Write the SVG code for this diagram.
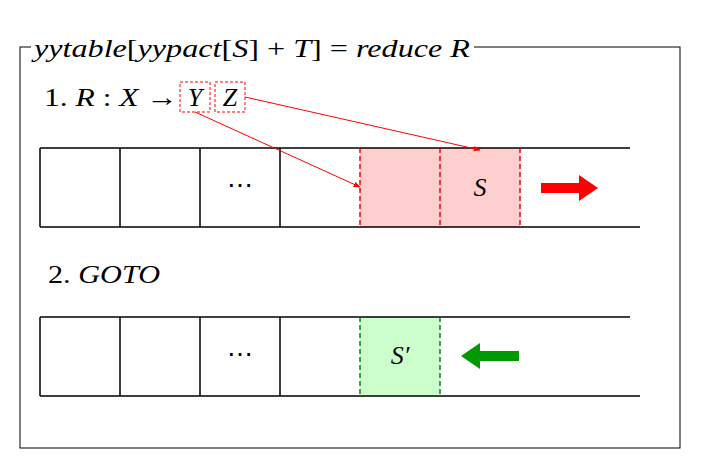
<svg xmlns="http://www.w3.org/2000/svg" width="702" height="469" viewBox="0 0 702 469">
<defs>
<style>
.m{font-family:"Liberation Serif",serif;font-style:italic;font-size:26px;fill:#000}
.n{font-family:"Liberation Serif",serif;font-style:normal;font-size:26px;fill:#000}
.l{stroke:#000;stroke-width:1.5;fill:none}
.rd{stroke:#e00;stroke-width:1.5;stroke-dasharray:5,3;fill:none}
.gd{stroke:#080;stroke-width:1.5;stroke-dasharray:5,3;fill:none}
</style>
<marker id="ah" viewBox="0 0 10 10" refX="9" refY="5" markerWidth="7" markerHeight="7" orient="auto"><path d="M0,1 L10,5 L0,9 z" fill="#f00"/></marker>
</defs>
<rect width="702" height="469" fill="#fff"/>
<rect x="20" y="47" width="660" height="401" fill="none" stroke="#000" stroke-width="1"/>
<rect x="31" y="33" width="443" height="28" fill="#fff"/>
<text x="34" y="57" class="m" textLength="436" lengthAdjust="spacingAndGlyphs">yytable<tspan class="n">[</tspan>yypact<tspan class="n">[</tspan>S<tspan class="n">] + </tspan>T<tspan class="n">] = </tspan>reduce R</text>
<g id="rule">
<text x="44" y="106" class="n" textLength="134" lengthAdjust="spacingAndGlyphs">1. <tspan class="m">R</tspan> : <tspan class="m">X</tspan> →</text>
<rect x="180" y="82" width="30" height="30" fill="none" stroke="#f00" stroke-dasharray="3,2"/>
<text x="195" y="106" class="m" text-anchor="middle">Y</text>
<rect x="215" y="82" width="30" height="30" fill="none" stroke="#f00" stroke-dasharray="3,2"/>
<text x="230" y="106" class="m" text-anchor="middle">Z</text>
</g>
<g id="tape1">
<rect x="360" y="148" width="160" height="79" fill="#ffcfcf"/>
<path class="l" d="M40,148 H630 M40,227 H640 M40,148 V227 M120,148 V227 M200,148 V227 M280,148 V227"/>
<path class="rd" d="M360,148 V227 M440,148 V227 M520,148 V227"/>
<text x="240" y="194" class="n" text-anchor="middle">⋯</text>
<text x="480" y="196" class="m" text-anchor="middle">S</text>
<path d="M541,183 H579 V175 L598,188 L579,201 V193 H541 z" fill="#f00"/>
</g>
<g id="goto"><text x="48" y="283" class="n" textLength="112" lengthAdjust="spacingAndGlyphs">2. <tspan class="m">GOTO</tspan></text></g>
<g id="tape2">
<rect x="360" y="317" width="80" height="79" fill="#ccffcc"/>
<path class="l" d="M40,317 H630 M40,396 H640 M40,317 V396 M120,317 V396 M200,317 V396 M280,317 V396"/>
<path class="gd" d="M360,317 V396 M440,317 V396"/>
<text x="240" y="363" class="n" text-anchor="middle">⋯</text>
<text x="400" y="364" class="m" text-anchor="middle">S′</text>
<path d="M519,351 H480 V343 L461,356 L480,369 V361 H519 z" fill="#090"/>
</g>
<g id="connectors" stroke="#f00" stroke-width="1" fill="none">
<path d="M195,112 L360,187" marker-end="url(#ah)"/>
<path d="M245,97 L480,150" marker-end="url(#ah)"/>
</g>
</svg>
